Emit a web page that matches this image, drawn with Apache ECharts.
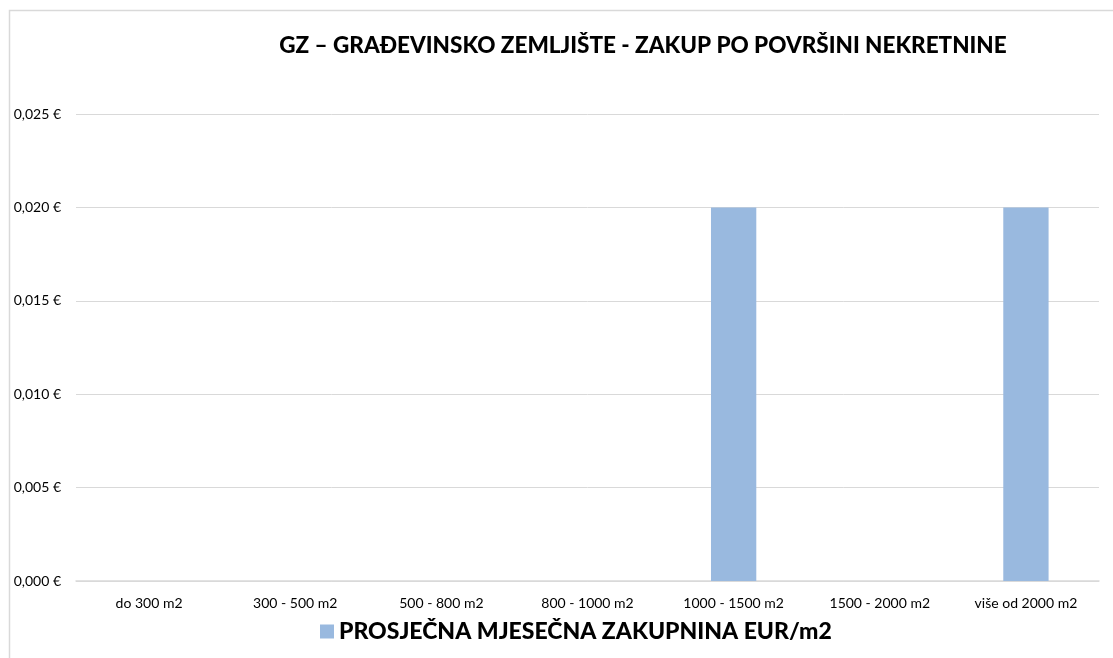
<!DOCTYPE html>
<html><head><meta charset="utf-8">
<script src="https://cdn.jsdelivr.net/npm/echarts@6/dist/echarts.min.js"></script>
<style>html,body{margin:0;padding:0;background:#fff}#c{width:1113px;height:658px}</style>
</head><body><div id="c"></div>
<script>
const categories = ['do 300 m2','300 - 500 m2','500 - 800 m2','800 - 1000 m2','1000 - 1500 m2','1500 - 2000 m2','više od 2000 m2'];
const values = [0, 0, 0, 0, 0.02, 0, 0.02];
const seriesName = 'PROSJEČNA MJESEČNA ZAKUPNINA EUR/m2';
const titleText = 'GZ – GRAĐEVINSKO ZEMLJIŠTE - ZAKUP PO POVRŠINI NEKRETNINE';
const font = 'Lato, "Open Sans", "Noto Sans", sans-serif';
const chart = echarts.init(document.getElementById('c'));
chart.setOption({
  animation: false,
  textStyle: {fontFamily: font},
  graphic: [{type:'rect', shape:{x:9.5,y:10.5,width:1300,height:800}, style:{fill:'none', stroke:'#d9d9d9', lineWidth:1.5}, silent:true}],
  title: {text: titleText, left: 638, top: 29, textAlign: 'center',
    textStyle: {fontFamily: font, fontSize: 22.5, fontWeight: 900, color: '#000'}},
  legend: {data:[seriesName], left: 315, top: 615, itemWidth: 14, itemHeight: 14, itemGap: 6,
    icon: 'rect', itemStyle: {borderWidth: 0},
    textStyle: {fontFamily: font, fontSize: 23, fontWeight: 900, color: '#000'}},
  grid: {left: 76, right: 14, top: 114, bottom: 77, containLabel: false},
  xAxis: {type:'category', data: categories,
    axisLine:{lineStyle:{color:'#d9d9d9', width:1.5}}, axisTick:{show:false},
    axisLabel:{fontFamily: font, fontSize: 14, color:'#000', margin: 15}},
  yAxis: {type:'value', min:0, max:0.025, interval:0.005,
    axisLine:{show:false}, axisTick:{show:false},
    splitLine:{lineStyle:{color:'#d9d9d9', width:1}},
    axisLabel:{fontFamily: font, fontSize: 14, color:'#000', margin: 15,
      formatter: v => v.toFixed(3).replace('.', ',') + ' €'}},
  series: [{type:'bar', name: seriesName, data: values, barWidth: '31%',
    itemStyle:{color:'#99b9df'}}]
});
</script></body></html>
